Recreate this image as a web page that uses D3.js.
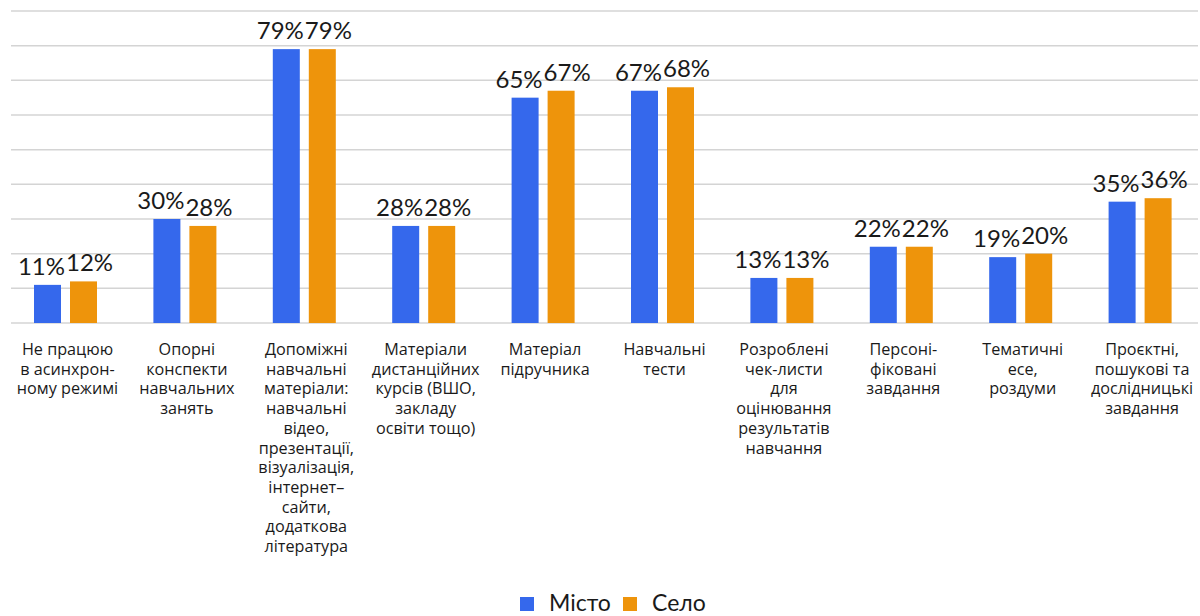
<!DOCTYPE html>
<html><head><meta charset="utf-8">
<script src="https://cdn.jsdelivr.net/npm/d3@7"></script>
<style>body{margin:0;background:#fff;} svg{display:block;font-family:Lato, "Noto Sans", sans-serif;}</style>
</head><body>
<svg id="c" width="1200" height="616"></svg>
<script>
const categories = [
  ["Не працюю","в асинхрон-","ному режимі"],
  ["Опорні","конспекти","навчальних","занять"],
  ["Допоміжні","навчальні","матеріали:","навчальні","відео,","презентації,","візуалізація,","інтернет–","сайти,","додаткова","література"],
  ["Матеріали","дистанційних","курсів (ВШО,","закладу","освіти тощо)"],
  ["Матеріал","підручника"],
  ["Навчальні","тести"],
  ["Розроблені","чек-листи","для","оцінювання","результатів","навчання"],
  ["Персоні-","фіковані","завдання"],
  ["Тематичні","есе,","роздуми"],
  ["Проєктні,","пошукові та","дослідницькі","завдання"]
];
const seriesNames = ["Місто","Село"];
const misto = [11,30,79,28,65,67,13,22,19,35];
const selo  = [12,28,79,28,67,68,13,22,20,36];
const gridTicks = [0,10,20,30,40,50,60,70,80,90];
const colors = ["#3568EC","#EE940B"];

const svg = d3.select("#c");
const x = d3.scaleBand().domain(d3.range(categories.length)).range([5.8,1199.8]);
const x1 = d3.scaleBand().domain([0,1]).range([0,63]).paddingInner(0.25);
const y = d3.scaleLinear().domain([0,90]).range([323,11]);

svg.append("g").selectAll("line").data(gridTicks).join("line")
  .attr("x1",11).attr("x2",1198)
  .attr("y1",d=>y(d)).attr("y2",d=>y(d))
  .attr("stroke","#d4d4d4").attr("stroke-width",1.5);

const data = [misto, selo];
const groups = svg.append("g").selectAll("g").data(categories).join("g")
  .attr("transform",(d,i)=>`translate(${x(i)+x.bandwidth()/2-31.5},0)`);

groups.each(function(cat,i){
  const g = d3.select(this);
  const texts = [];
  [0,1].forEach(s=>{
    const v = data[s][i];
    g.append("rect").attr("x",x1(s)).attr("width",x1.bandwidth())
      .attr("y",y(v)).attr("height",y(0)-y(v)).attr("fill",colors[s]);
    const t = g.append("text").attr("x",x1(s)+x1.bandwidth()/2).attr("y",y(v)-10)
      .attr("text-anchor","middle").attr("font-size",24).attr("fill","#1a1a1a")
      .text(v+"%");
    texts.push(t);
  });
  const w0 = texts[0].node().getComputedTextLength();
  const w1 = texts[1].node().getComputedTextLength();
  const c0 = x1(0)+x1.bandwidth()/2, c1 = x1(1)+x1.bandwidth()/2;
  const overlap = (c0+w0/2) - (c1-w1/2) + 1;
  if (overlap>0){
    texts[0].attr("x", c0 - overlap/2);
    texts[1].attr("x", c1 + overlap/2);
  }
});

const labels = svg.append("g").selectAll("text").data(categories).join("text")
  .attr("x",(d,i)=>x(i)+x.bandwidth()/2+2)
  .attr("y",355)
  .attr("text-anchor","middle").attr("font-family","'Open Sans', sans-serif")
  .attr("font-size",16.2).attr("fill","#1a1a1a");
labels.each(function(lines){
  const t = d3.select(this);
  lines.forEach((l,k)=>{
    t.append("tspan").attr("x",t.attr("x")).attr("dy",k===0?0:19.7).text(l);
  });
});

const leg = svg.append("g");
const legX = [520,623];
seriesNames.forEach((n,s)=>{
  leg.append("rect").attr("x",legX[s]).attr("y",597).attr("width",14).attr("height",14).attr("fill",colors[s]);
  leg.append("text").attr("x",legX[s]+29).attr("y",611).attr("font-size",23).attr("fill","#1a1a1a").text(n);
});
</script>
</body></html>
